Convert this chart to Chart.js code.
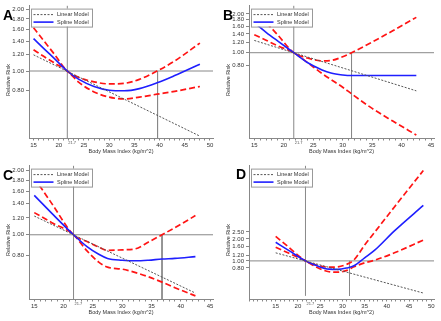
<!DOCTYPE html>
<html lang="en">
<head>
  <meta charset="UTF-8" />
  <title>Relative Risk by Body Mass Index</title>
  <script src="https://cdn.jsdelivr.net/npm/chart.js"></script>
  <style>
    body { margin: 0; background: #fff; }
    .grid { position: relative; width: 441px; height: 321px; }
    .grid canvas { position: absolute; }
  </style>
</head>
<body>
  <div class="grid">
    <canvas id="chartA" width="220" height="160" style="left:0;top:0"></canvas>
    <canvas id="chartB" width="221" height="160" style="left:220px;top:0"></canvas>
    <canvas id="chartC" width="220" height="161" style="left:0;top:160px"></canvas>
    <canvas id="chartD" width="221" height="161" style="left:220px;top:160px"></canvas>
  </div>

  <script>
    // reference BMI (vertical line through RR = 1)
    const refBmi = 21.7;

    // Panel A
    const aX      = [15, 17, 19, 21.7, 24, 27, 30, 33, 36, 39.5, 43, 48];
    const aSpline = [1.44, 1.29, 1.16, 1.00, 0.91, 0.84, 0.805, 0.80, 0.82, 0.875, 0.95, 1.08];
    const aUpper  = [1.63, 1.41, 1.22, 1.00, 0.93, 0.885, 0.865, 0.87, 0.91, 1.00, 1.12, 1.37];
    const aLower  = [1.27, 1.18, 1.10, 1.00, 0.88, 0.79, 0.745, 0.73, 0.745, 0.77, 0.795, 0.84];
    const aLinX   = [15, 48];
    const aLinear = [1.20, 0.48];
    const aCut    = 39.6;
    const aXRange = [14.1, 50.6];
    const aYRange = [0.47, 2.09];
    const aYTicks = [0.8, 1.0, 1.2, 1.4, 1.6, 1.8, 2.0];

    // Panel B
    const bX      = [15, 17, 19, 21.7, 24, 26.5, 28, 30, 31.5, 35, 38.5, 42.5];
    const bSpline = [1.71, 1.44, 1.23, 1.00, 0.84, 0.735, 0.695, 0.672, 0.665, 0.665, 0.665, 0.665];
    const bUpper  = [2.16, 1.72, 1.37, 1.00, 0.91, 0.865, 0.87, 0.93, 1.00, 1.21, 1.48, 1.88];
    const bLower  = [1.38, 1.25, 1.13, 1.00, 0.84, 0.69, 0.62, 0.54, 0.48, 0.37, 0.295, 0.23];
    const bLinX   = [15, 42.5];
    const bLinear = [1.245, 0.506];
    const bCut    = 31.5;
    const bXRange = [14.1, 45.5];
    const bYRange = [0.218, 2.32];
    const bYTicks = [0.8, 1.0, 1.2, 1.4, 1.6, 1.8, 2.0];

    // Panel C
    const cX      = [15, 18, 21.7, 24, 26, 27.5, 30, 32.3, 34.5, 36.8, 39, 42.5];
    const cSpline = [1.53, 1.26, 1.00, 0.88, 0.81, 0.775, 0.76, 0.755, 0.76, 0.77, 0.775, 0.79];
    const cUpper  = [1.85, 1.40, 1.00, 0.93, 0.875, 0.845, 0.85, 0.86, 0.925, 1.00, 1.08, 1.23];
    const cLower  = [1.27, 1.14, 1.00, 0.84, 0.745, 0.705, 0.69, 0.665, 0.635, 0.60, 0.565, 0.517];
    const cLinX   = [15, 42.5];
    const cLinear = [1.224, 0.533];
    const cCut    = 36.8;
    const cXRange = [14.1, 45.5];
    const cYRange = [0.50, 2.11];
    const cYTicks = [0.8, 1.0, 1.2, 1.4, 1.6, 1.8, 2.0];

    // Panel D
    const dX      = [15, 18, 21.7, 24, 27, 29, 31, 32.6, 35, 37.2, 41.7, 48.2];
    const dSpline = [1.80, 1.38, 1.00, 0.87, 0.77, 0.765, 0.80, 0.856, 1.10, 1.39, 2.58, 5.77];
    const dUpper  = [2.17, 1.53, 1.00, 0.88, 0.82, 0.83, 0.90, 1.03, 1.65, 2.45, 5.5, 17.4];
    const dLower  = [1.54, 1.27, 1.00, 0.83, 0.71, 0.70, 0.74, 0.83, 0.94, 1.02, 1.29, 1.93];
    const dLinX   = [15, 48.2];
    const dLinear = [1.29, 0.362];
    const dCut    = 31.6;
    const dXRange = [9.0, 50.6];
    const dYRange = [0.331, 20.3];
    const dYTicks = [0.8, 1.0, 1.2, 1.6, 2.0, 2.5];

    const FONT = '"Liberation Sans", Arial, sans-serif';
    Chart.defaults.font.family = FONT;
    Chart.defaults.color = '#333';

    const pts = (xs, ys) => xs.map((x, i) => ({ x: x, y: ys[i] }));

    // legend box, panel letter, y title and the small 21.7 label
    const decor = {
      id: 'decor',
      afterDatasetsDraw(chart, args, opts) {
        const ctx = chart.ctx, a = chart.chartArea;
        const bx = a.left + 2, by = a.top + 3, bw = 61, bh = 18;
        ctx.save();
        ctx.fillStyle = '#fff';
        ctx.fillRect(bx, by, bw, bh);
        ctx.strokeStyle = '#999';
        ctx.lineWidth = 1;
        ctx.strokeRect(bx + 0.5, by + 0.5, bw, bh);
        const items = chart.data.datasets.filter(d => d.inLegend);
        ctx.font = '5.5px ' + FONT;
        ctx.textBaseline = 'middle';
        items.forEach((d, i) => {
          const y = by + 6 + i * 7.5;
          ctx.strokeStyle = d.borderColor;
          ctx.lineWidth = d.borderWidth;
          ctx.setLineDash(d.borderDash || []);
          ctx.beginPath();
          ctx.moveTo(bx + 2.5, y);
          ctx.lineTo(bx + 22.5, y);
          ctx.stroke();
          ctx.setLineDash([]);
          ctx.fillStyle = '#333';
          ctx.fillText(d.label, bx + 26, y);
        });
        ctx.restore();
      },
      afterDraw(chart, args, opts) {
        const ctx = chart.ctx, a = chart.chartArea;
        ctx.save();
        ctx.fillStyle = '#000';
        ctx.font = 'bold 14px ' + FONT;
        ctx.textBaseline = 'alphabetic';
        ctx.fillText(opts.letter, opts.letterX, opts.letterY);

        ctx.fillStyle = '#333';
        ctx.font = '5.5px ' + FONT;
        ctx.translate(8, 80);
        ctx.rotate(-Math.PI / 2);
        ctx.textAlign = 'center';
        ctx.textBaseline = 'middle';
        ctx.fillText('Relative Risk', 0, 0);
        ctx.restore();

        ctx.save();
        ctx.fillStyle = '#555';
        ctx.font = '4px ' + FONT;
        ctx.textBaseline = 'top';
        ctx.fillText('21.7', chart.scales.x.getPixelForValue(refBmi) + 1, a.bottom + 2.5);
        ctx.restore();
      }
    };

    function makePanel(id, letter, letterX, letterY, x, spline, upper, lower, linX, linear, cut, xRange, yRange, yTicks) {
      const refLine = { borderColor: '#888', borderWidth: 1, order: 9 };
      const ds = [
        { label: 'Linear Model', data: pts(linX, linear), borderColor: '#555', borderWidth: 1, borderDash: [2, 1.5], inLegend: true, order: 1 },
        { label: 'Spline Model', data: pts(x, spline), borderColor: '#1f1fff', borderWidth: 1.6, inLegend: true, order: 2, cubicInterpolationMode: 'monotone' },
        { label: 'Upper', data: pts(x, upper), borderColor: '#ff1414', borderWidth: 1.7, borderDash: [6, 3], order: 3, cubicInterpolationMode: 'monotone' },
        { label: 'Lower', data: pts(x, lower), borderColor: '#ff1414', borderWidth: 1.7, borderDash: [6, 3], order: 3, cubicInterpolationMode: 'monotone' },
        { ...refLine, data: [{ x: xRange[0], y: 1 }, { x: xRange[1], y: 1 }] },
        { ...refLine, data: [{ x: refBmi, y: yRange[0] }, { x: refBmi, y: yRange[1] }] },
        { ...refLine, data: [{ x: cut, y: 1 }, { x: cut, y: yRange[0] }] }
      ];

      new Chart(document.getElementById(id), {
        type: 'line',
        data: { datasets: ds },
        options: {
          responsive: false,
          animation: false,
          devicePixelRatio: 1,
          layout: { padding: { top: 4, right: 7, left: 0, bottom: 0 } },
          elements: { point: { radius: 0 } },
          plugins: {
            legend: { display: false },
            tooltip: { enabled: false },
            decor: { letter: letter, letterX: letterX, letterY: letterY }
          },
          scales: {
            x: {
              type: 'linear',
              min: xRange[0],
              max: xRange[1],
              afterFit: s => { s.height = 22; },
              grid: { display: true, drawOnChartArea: false, drawTicks: true, tickLength: 2.5, color: '#888' },
              border: { display: true, color: '#888' },
              ticks: {
                stepSize: 1, includeBounds: false, autoSkip: false, maxRotation: 0, padding: 1.5,
                font: { size: 6 },
                callback: v => (v % 5 === 0 && v >= 15 ? v : '')
              },
              title: { display: true, text: 'Body Mass Index (kg/m^2)', font: { size: 5.5 }, padding: { top: 0, bottom: 5 } }
            },
            y: {
              type: 'logarithmic',
              min: yRange[0],
              max: yRange[1],
              afterFit: s => { s.width = 29; },
              afterBuildTicks: s => { s.ticks = yTicks.map(v => ({ value: v })); },
              grid: { display: true, drawOnChartArea: false, drawTicks: true, tickLength: 3, color: '#888' },
              border: { display: true, color: '#888' },
              ticks: { autoSkip: false, padding: 2, font: { size: 6 }, callback: v => Number(v).toFixed(2) }
            }
          }
        },
        plugins: [decor]
      });
    }

    makePanel('chartA', 'A', 3, 19.5, aX, aSpline, aUpper, aLower, aLinX, aLinear, aCut, aXRange, aYRange, aYTicks);
    makePanel('chartB', 'B', 3, 19.5, bX, bSpline, bUpper, bLower, bLinX, bLinear, bCut, bXRange, bYRange, bYTicks);
    makePanel('chartC', 'C', 3, 19.5, cX, cSpline, cUpper, cLower, cLinX, cLinear, cCut, cXRange, cYRange, cYTicks);
    makePanel('chartD', 'D', 16, 18.5, dX, dSpline, dUpper, dLower, dLinX, dLinear, dCut, dXRange, dYRange, dYTicks);
  </script>
</body>
</html>
